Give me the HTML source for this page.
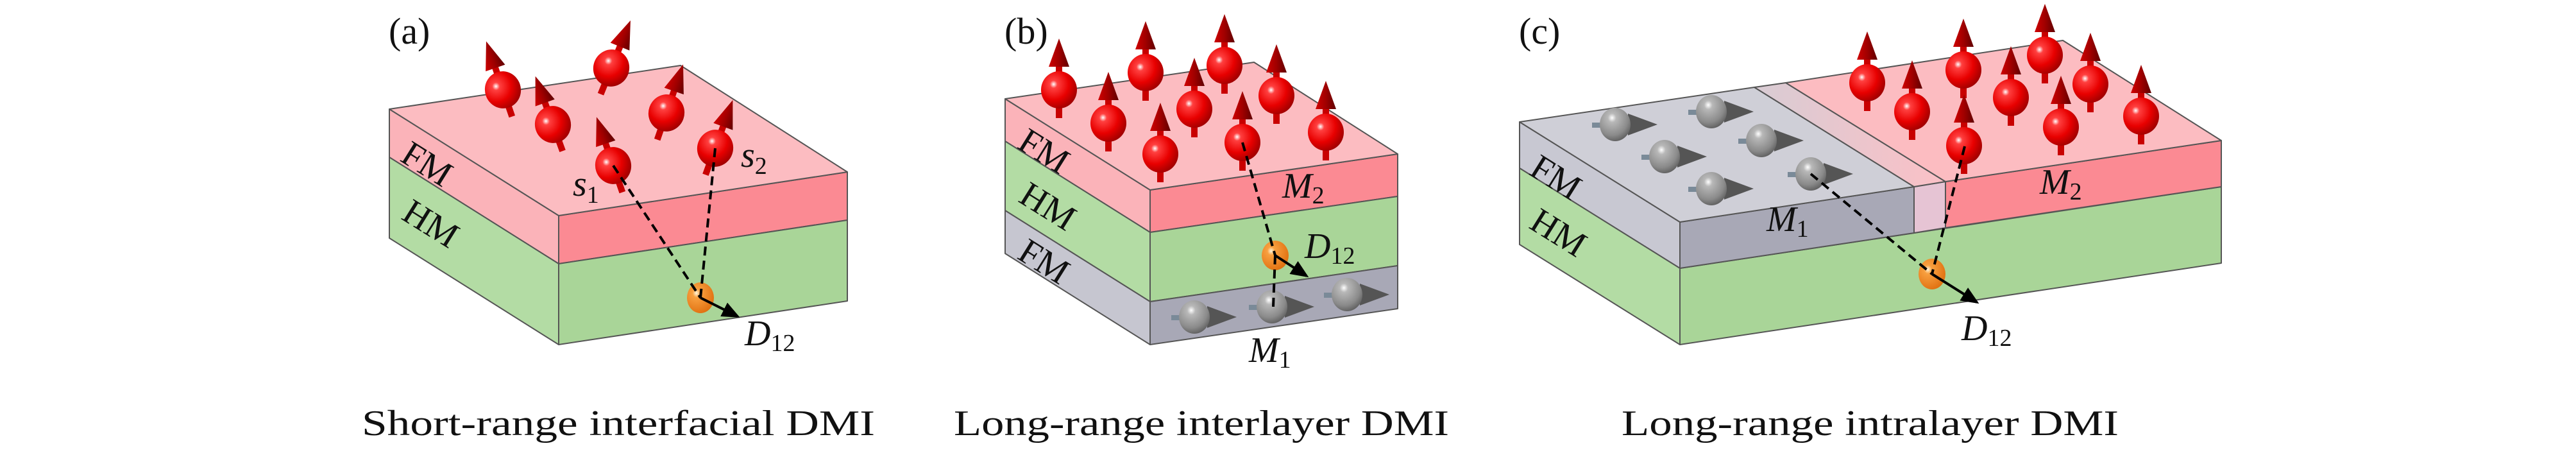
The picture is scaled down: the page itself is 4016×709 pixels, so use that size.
<!DOCTYPE html>
<html><head><meta charset="utf-8"><style>
html,body{margin:0;padding:0;background:#fff;}
svg{display:block;}
text{font-family:"Liberation Serif",serif;fill:#111;}
</style></head><body>
<svg width="4016" height="709" viewBox="0 0 4016 709" xmlns="http://www.w3.org/2000/svg">
<defs>
<radialGradient id="rb" cx="0.35" cy="0.35" r="0.7">
<stop offset="0" stop-color="#fff"/><stop offset="0.15" stop-color="#ff4040"/><stop offset="0.6" stop-color="#e80000"/><stop offset="1" stop-color="#a00000"/></radialGradient>
<radialGradient id="gb" cx="0.4" cy="0.3" r="0.75">
<stop offset="0" stop-color="#fff"/><stop offset="0.18" stop-color="#b8b8b8"/><stop offset="0.7" stop-color="#8a8a8a"/><stop offset="1" stop-color="#5a5a5a"/></radialGradient>
<radialGradient id="ob" cx="0.35" cy="0.35" r="0.7">
<stop offset="0" stop-color="#fff8e0"/><stop offset="0.2" stop-color="#f8a040"/><stop offset="1" stop-color="#e07010"/></radialGradient>
<linearGradient id="cone" x1="0" x2="1"><stop offset="0" stop-color="#d00000"/><stop offset="0.5" stop-color="#a00000"/><stop offset="1" stop-color="#600000"/></linearGradient>
<linearGradient id="tr" x1="0" x2="1"><stop offset="0" stop-color="#d8ccd4"/><stop offset="1" stop-color="#fbc0c6"/></linearGradient>
<g id="rs">
<rect x="-5" y="-40" width="10" height="84" fill="#c80000"/>
<polygon points="0,-80 -16,-36 16,-36" fill="url(#cone)"/>
<ellipse cx="0" cy="0" rx="28" ry="29" fill="url(#rb)"/>
</g>
<g id="gs">
<rect x="-36" y="-3" width="16" height="8" fill="#7a8a98"/>
<polygon points="20,-17 20,17 66,0" fill="#555"/>
<ellipse cx="0" cy="0" rx="24" ry="26" fill="url(#gb)"/>
</g>
<marker id="ah" markerWidth="8" markerHeight="8" refX="6" refY="4" orient="auto" markerUnits="strokeWidth"><path d="M0,1 L7,4 L0,7 Z" fill="#000"/></marker>
</defs>
<g stroke="#555" stroke-width="2" stroke-linejoin="round">
<polygon points="607,170 871,336 871,411 607,245" fill="#fbb3b9"/>
<polygon points="607,245 871,411 871,537 607,371" fill="#b3dca4"/>
<polygon points="871,336 1321,268 1321,343 871,411" fill="#fb8a93"/>
<polygon points="871,411 1321,343 1321,469 871,537" fill="#a9d598"/>
<polygon points="607,170 1061,102 1321,268 871,336" fill="#fcbcc1"/>
<polygon points="1567,154 1793,296 1793,362 1567,220" fill="#fbb3b9"/>
<polygon points="1567,220 1793,362 1793,470 1567,328" fill="#b3dca4"/>
<polygon points="1567,328 1793,470 1793,537 1567,395" fill="#c6c6d0"/>
<polygon points="1793,296 2179,240 2179,306 1793,362" fill="#fb8a93"/>
<polygon points="1793,362 2179,306 2179,414 1793,470" fill="#a9d598"/>
<polygon points="1793,470 2179,414 2179,481 1793,537" fill="#a8a8b6"/>
<polygon points="1567,154 1955,97 2179,240 1793,296" fill="#fcbcc1"/>
<polygon points="2369,190 2619,346 2619,418 2369,262" fill="#c8c8d2"/>
<polygon points="2369,262 2619,418 2619,537 2369,381" fill="#b3dca4"/>
<polygon points="2619,418 3463,291 3463,410 2619,537" fill="#a9d598"/>
<polygon points="2619,346 2984,291 2984,363 2619,418" fill="#a8a8b6"/>
<polygon points="2984,291 3033,283 3033,355 2984,363" fill="#e6c4d4"/>
<polygon points="3033,283 3463,219 3463,291 3033,355" fill="#fb8a93"/>
<polygon points="2369,190 2735,136 2984,291 2619,346" fill="#cfcfd7"/>
<polygon points="2735,136 2784,129 3033,283 2984,291" fill="url(#tr)"/>
<polygon points="2784,129 3216,63 3463,219 3033,283" fill="#fcbcc1"/>
</g>
<use href="#rs" transform="translate(953,106) rotate(22)"/>
<use href="#rs" transform="translate(784,140) rotate(-19)"/>
<use href="#rs" transform="translate(1039,176) rotate(19)"/>
<use href="#rs" transform="translate(862,194) rotate(-20)"/>
<use href="#rs" transform="translate(1115,231) rotate(20)"/>
<use href="#rs" transform="translate(956,258) rotate(-19)"/>
<use href="#rs" transform="translate(1909,102)"/>
<use href="#rs" transform="translate(1786,113)"/>
<use href="#rs" transform="translate(1651,140)"/>
<use href="#rs" transform="translate(1990,149)"/>
<use href="#rs" transform="translate(1862,170)"/>
<use href="#rs" transform="translate(1728,192)"/>
<use href="#rs" transform="translate(2067,206)"/>
<use href="#rs" transform="translate(1937,222)"/>
<use href="#rs" transform="translate(1809,240)"/>
<use href="#gs" transform="translate(2100,459)"/>
<use href="#gs" transform="translate(1983,478)"/>
<use href="#gs" transform="translate(1862,494)"/>
<use href="#rs" transform="translate(3188,86)"/>
<use href="#rs" transform="translate(3061,109)"/>
<use href="#rs" transform="translate(2911,129)"/>
<use href="#rs" transform="translate(3259,131)"/>
<use href="#rs" transform="translate(3135,152)"/>
<use href="#rs" transform="translate(2981,174)"/>
<use href="#rs" transform="translate(3338,181)"/>
<use href="#rs" transform="translate(3213,198)"/>
<use href="#rs" transform="translate(3062,227)"/>
<use href="#gs" transform="translate(2668,174)"/>
<use href="#gs" transform="translate(2518,194)"/>
<use href="#gs" transform="translate(2746,219)"/>
<use href="#gs" transform="translate(2595,244)"/>
<use href="#gs" transform="translate(2823,271)"/>
<use href="#gs" transform="translate(2668,294)"/>
<ellipse cx="1092" cy="464" rx="21" ry="24" fill="url(#ob)"/>
<ellipse cx="1988" cy="398" rx="21" ry="23" fill="url(#ob)"/>
<ellipse cx="3012" cy="427" rx="21" ry="24" fill="url(#ob)"/>
<g stroke="#000" stroke-width="4" fill="none" stroke-dasharray="14 8">
<line x1="956" y1="258" x2="1092" y2="464"/>
<line x1="1115" y1="231" x2="1092" y2="464"/>
<line x1="1937" y1="222" x2="1988" y2="398"/>
<line x1="1988" y1="398" x2="1985" y2="478"/>
<line x1="2823" y1="271" x2="3012" y2="427"/>
<line x1="3063" y1="228" x2="3012" y2="427"/>
</g>
<g stroke="#000" stroke-width="4" fill="none">
<line x1="1092" y1="464" x2="1150" y2="493" marker-end="url(#ah)"/>
<line x1="1988" y1="398" x2="2037" y2="430" marker-end="url(#ah)"/>
<line x1="3012" y1="427" x2="3082" y2="471" marker-end="url(#ah)"/>
</g>
<g font-size="58">
<text x="606" y="68">(a)</text>
<text x="1566" y="68">(b)</text>
<text x="2368" y="68">(c)</text>
</g>
<g font-size="56" text-anchor="middle">
<text transform="translate(666,255) rotate(32)" dy="19">FM</text>
<text transform="translate(672,348) rotate(32)" dy="19">HM</text>
<text transform="translate(1628,235) rotate(32)" dy="19">FM</text>
<text transform="translate(1634,321) rotate(32)" dy="19">HM</text>
<text transform="translate(1628,407) rotate(32)" dy="19">FM</text>
<text transform="translate(2426,276) rotate(32)" dy="19">FM</text>
<text transform="translate(2430,362) rotate(32)" dy="19">HM</text>
</g>
<g font-size="56" font-style="italic">
<text x="893" y="305">s<tspan font-style="normal" font-size="38" dy="11">1</tspan></text>
<text x="1155" y="260">s<tspan font-style="normal" font-size="38" dy="11">2</tspan></text>
<text x="1161" y="538">D<tspan font-style="normal" font-size="38" dy="9">12</tspan></text>
<text x="1999" y="308">M<tspan font-style="normal" font-size="38" dy="9">2</tspan></text>
<text x="2034" y="402">D<tspan font-style="normal" font-size="38" dy="9">12</tspan></text>
<text x="1947" y="564">M<tspan font-style="normal" font-size="38" dy="9">1</tspan></text>
<text x="2754" y="360">M<tspan font-style="normal" font-size="38" dy="9">1</tspan></text>
<text x="3180" y="302">M<tspan font-style="normal" font-size="38" dy="9">2</tspan></text>
<text x="3058" y="530">D<tspan font-style="normal" font-size="38" dy="9">12</tspan></text>
</g>
<g font-size="56">
<text x="564" y="678" textLength="800" lengthAdjust="spacingAndGlyphs">Short-range interfacial DMI</text>
<text x="1487" y="678" textLength="772" lengthAdjust="spacingAndGlyphs">Long-range interlayer DMI</text>
<text x="2528" y="678" textLength="775" lengthAdjust="spacingAndGlyphs">Long-range intralayer DMI</text>
</g>
</svg>
</body></html>
